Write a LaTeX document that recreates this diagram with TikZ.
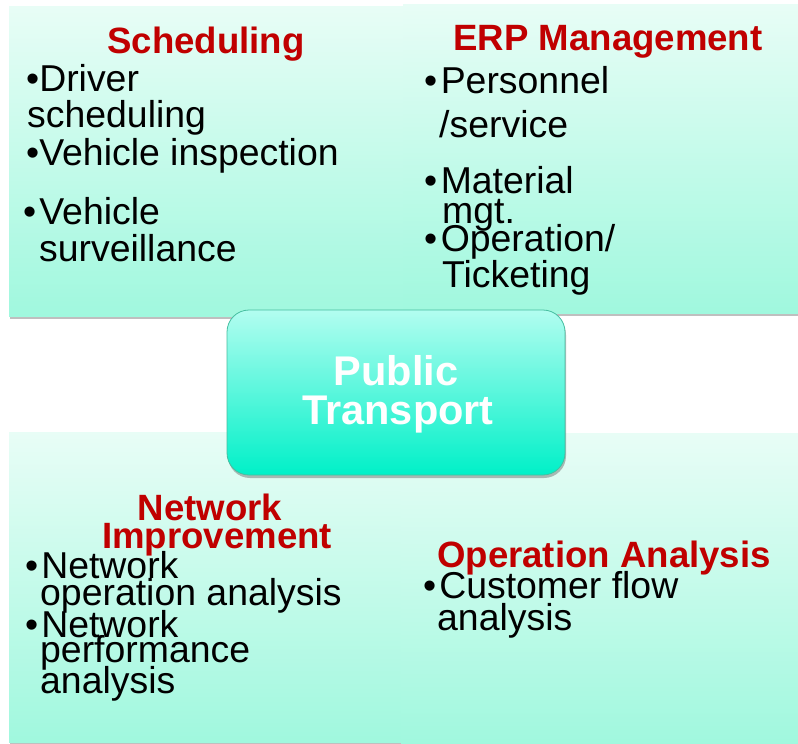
\documentclass[tikz,border=0pt]{standalone}
\usepackage{fontspec}
\setmainfont{Liberation Sans}
\usetikzlibrary{shadows}
\definecolor{qtop}{RGB}{232,253,246}
\definecolor{qbot}{RGB}{160,248,222}
\definecolor{titred}{RGB}{192,0,0}
\definecolor{ctop}{RGB}{178,253,240}
\definecolor{cbot}{RGB}{0,240,200}
\definecolor{cborder}{RGB}{70,190,160}
\tikzset{
  quad/.style={rectangle, draw=none, top color=qtop, bottom color=qbot, inner sep=0pt,
    drop shadow={shadow xshift=0.5pt, shadow yshift=-2.5pt, opacity=0.45, fill=black!55}},
  centerbox/.style={rectangle, rounded corners=22pt, top color=ctop, bottom color=cbot,
    draw=cborder, line width=0.8pt, inner sep=0pt,
    drop shadow={shadow xshift=1pt, shadow yshift=-3pt, opacity=0.45, fill=black!60}},
  title/.style={font=\fontsize{36.6}{36.6}\selectfont\bfseries, text=titred, anchor=base, inner sep=0pt},
  body/.style={font=\fontsize{37.4}{37.4}\selectfont, text=black, anchor=base west, inner sep=0pt},
  ctext/.style={font=\fontsize{41.5}{41.5}\selectfont\bfseries, text=white, anchor=base, inner sep=0pt}
}
\begin{document}
\begin{tikzpicture}[x=1pt,y=-1pt]
\useasboundingbox (0,0) rectangle (798,744);
\fill[white] (0,0) rectangle (798,744);
% quadrant boxes
\node[quad, minimum width=394pt, minimum height=310pt] (tl) at (206,161) {};
\node[quad, minimum width=396pt, minimum height=309pt] (tr) at (601,158.5) {};
\node[quad, minimum width=393pt, minimum height=310pt] (bl) at (205.5,587) {};
\node[quad, minimum width=398pt, minimum height=312pt] (br) at (600,589) {};
% center
\node[centerbox, minimum width=338pt, minimum height=165pt] (ctr) at (396,392.5) {};
\node[ctext] (c1) at (396,385) {Public};
\node[ctext] (c2) at (398,424) {Transport};
% Scheduling
\node[title] (t1) at (206,53) {Scheduling};
\node[body] (a1) at (26,91) {•Driver};
\node[body] (a2) at (27,127) {scheduling};
\node[body] (a3) at (26,165) {•Vehicle inspection};
\node[body] (a4) at (23,224) {•\hspace{3pt}Vehicle};
\node[body] (a5) at (39,261) {surveillance};
% ERP
\node[title] (t2) at (608,50) {ERP Management};
\node[body] (b1) at (424,93) {•\hspace{3.5pt}Personnel};
\node[body] (b2) at (439,137) {/service};
\node[body] (b3) at (424,193) {•\hspace{3.5pt}Material};
\node[body] (b4) at (442,223) {mgt.};
\node[body] (b5) at (424,251) {•\hspace{3.5pt}Operation/};
\node[body] (b6) at (442,287) {Ticketing};
% Network improvement
\node[title] (t3) at (210,520) {Network};
\node[title] (t4) at (217,548) {Improvement};
\node[body] (n1) at (25,578) {•\hspace{3pt}Network};
\node[body] (n2) at (40,605) {operation analysis};
\node[body] (n3) at (25,637) {•\hspace{3pt}Network};
\node[body] (n4) at (40,662) {performance};
\node[body] (n5) at (40,693) {analysis};
% Operation analysis
\node[title] (t5) at (604,567) {Operation Analysis};
\node[body] (o1) at (423,598) {•\hspace{3pt}Customer flow};
\node[body] (o2) at (437,630) {analysis};
\end{tikzpicture}
\end{document}
